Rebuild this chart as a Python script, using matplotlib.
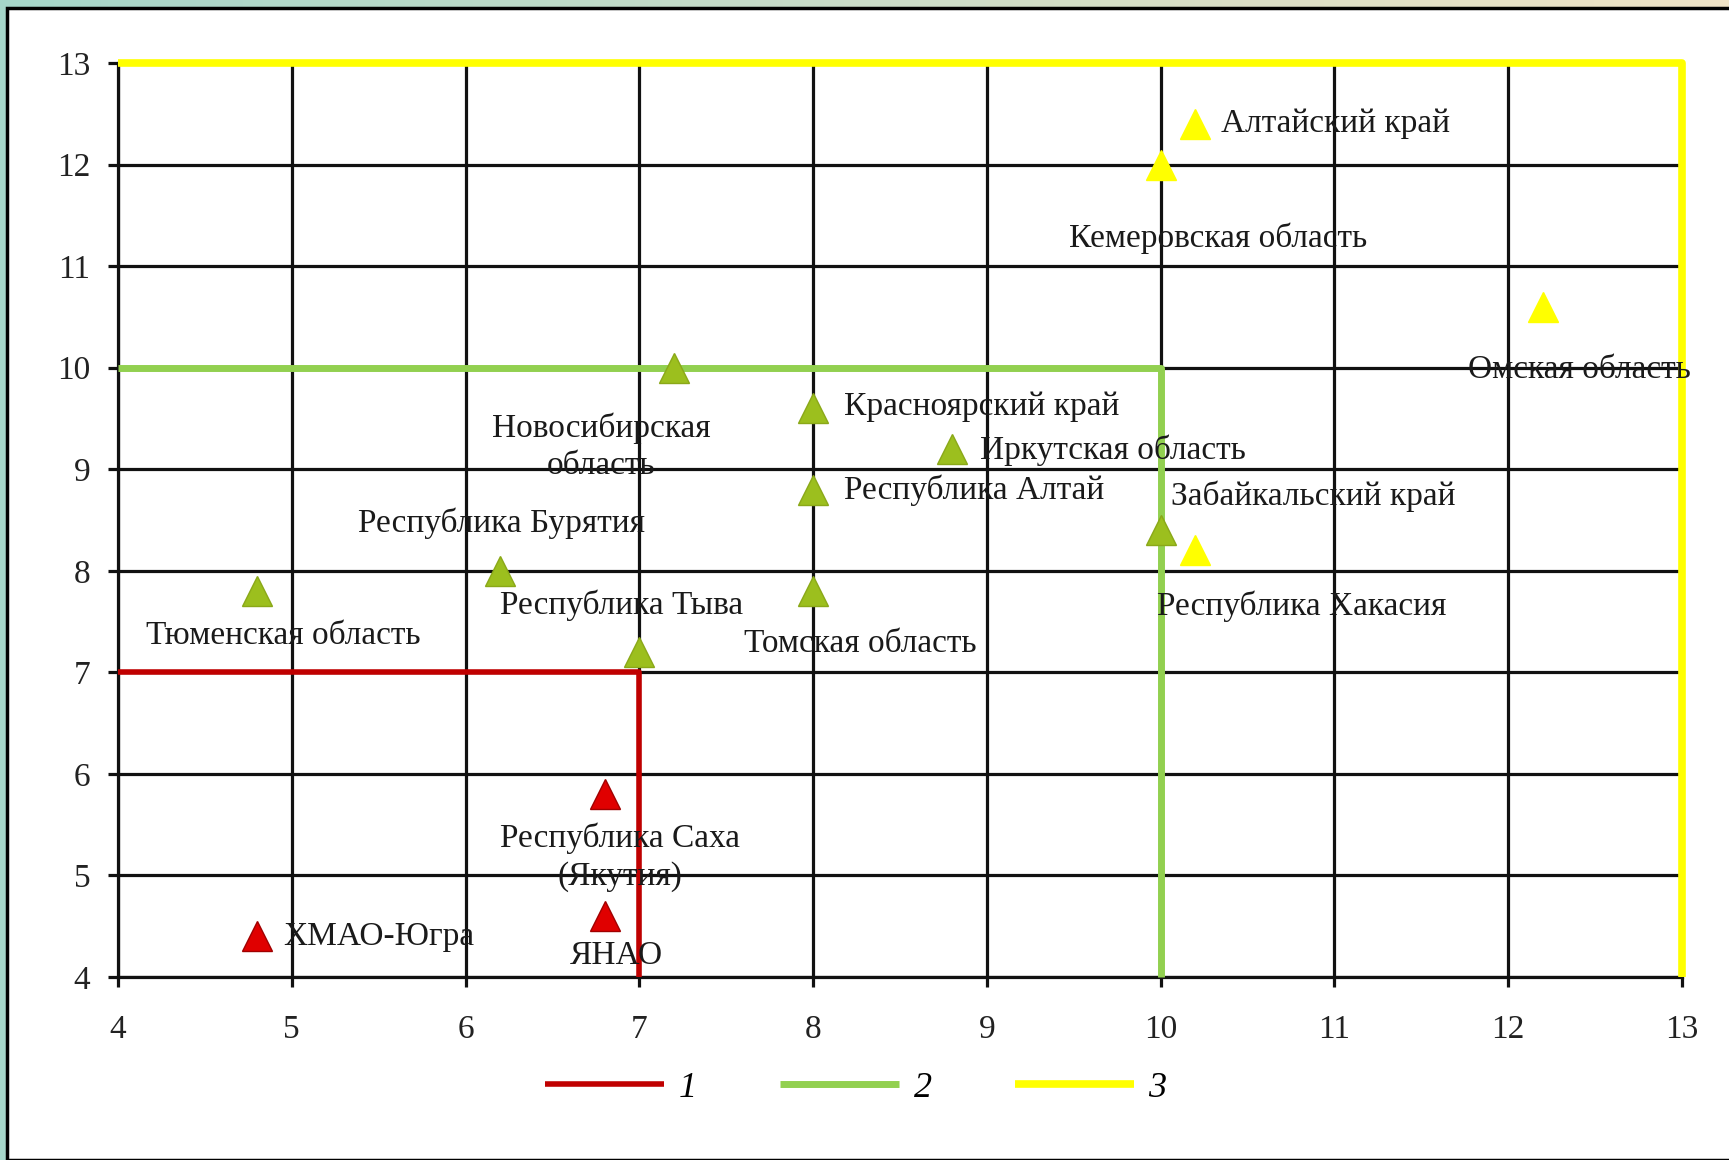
import numpy as np
import matplotlib.pyplot as plt
from matplotlib.patches import Rectangle

plt.rcParams['font.family'] = ['Liberation Serif', 'DejaVu Serif']

# регионы: группа 1 (красные)
red_names = ['ХМАО-Югра', 'Республика Саха\n(Якутия)', 'ЯНАО']
red_x = [4.8, 6.8, 6.8]
red_y = [4.4, 5.8, 4.6]

# группа 2 (зелёные)
green_names = ['Тюменская область', 'Республика Бурятия', 'Новосибирская\nобласть',
               'Республика Тыва', 'Красноярский край', 'Республика Алтай',
               'Томская область', 'Иркутская область', 'Забайкальский край']
green_x = [4.8, 6.2, 7.2, 7.0, 8.0, 8.0, 8.0, 8.8, 10.0]
green_y = [7.8, 8.0, 10.0, 7.2, 9.6, 8.8, 7.8, 9.2, 8.4]

# группа 3 (жёлтые)
yellow_names = ['Алтайский край', 'Кемеровская область', 'Омская область', 'Республика Хакасия']
yellow_x = [10.2, 10.0, 12.2, 10.2]
yellow_y = [12.4, 12.0, 10.6, 8.2]

# границы зон
zone1_x, zone1_y = [4, 7, 7], [7, 7, 4]
zone2_x, zone2_y = [4, 10, 10], [10, 10, 4]
zone3_x, zone3_y = [4, 13, 13], [13, 13, 4]
legend_labels = ['1', '2', '3']

# подписи: положение текста
label_pos = {
    'ХМАО-Югра': (4.95, 4.40, 'left'),
    'Республика Саха\n(Якутия)': (6.89, 5.18, 'center'),
    'ЯНАО': (6.87, 4.21, 'center'),
    'Тюменская область': (4.16, 7.36, 'left'),
    'Республика Бурятия': (5.38, 8.47, 'left'),
    'Новосибирская\nобласть': (6.78, 9.22, 'center'),
    'Республика Тыва': (6.2, 7.66, 'left'),
    'Красноярский край': (8.18, 9.62, 'left'),
    'Республика Алтай': (8.18, 8.79, 'left'),
    'Томская область': (7.60, 7.28, 'left'),
    'Иркутская область': (8.96, 9.19, 'left'),
    'Забайкальский край': (10.06, 8.73, 'left'),
    'Алтайский край': (10.35, 12.4, 'left'),
    'Кемеровская область': (10.33, 11.27, 'center'),
    'Омская область': (12.41, 9.98, 'center'),
    'Республика Хакасия': (9.98, 7.65, 'left'),
}

W, H = 1729, 1160
fig = plt.figure(figsize=(W / 100, H / 100), dpi=100)

# фон слайда
bg = fig.add_axes([0, 0, 1, 1])
grad = np.linspace(0, 1, 256)
c1 = np.array([0.65, 0.84, 0.79])
c2 = np.array([0.94, 0.89, 0.78])
img = np.array([c1 * (1 - g) + c2 * g for g in grad])[None, :, :]
bg.imshow(img, aspect='auto', extent=[0, 1, 0, 1])
bg.add_patch(Rectangle((7 / W, 0), 1, 1 - 8 / H, facecolor='white',
                       edgecolor='black', linewidth=2.5))
bg.set_xlim(0, 1)
bg.set_ylim(0, 1)
bg.axis('off')

ax = fig.add_axes([118 / W, 1 - 977 / H, (1682 - 118) / W, (977 - 63) / H])
ax.set_facecolor('none')
ax.set_xlim(4, 13)
ax.set_ylim(4, 13)
ax.set_xticks(range(4, 14))
ax.set_yticks(range(4, 14))
ax.grid(True, color='#111111', linewidth=2.3)
for s in ['top', 'right']:
    ax.spines[s].set_visible(False)
for s in ['left', 'bottom']:
    ax.spines[s].set_color('#111111')
    ax.spines[s].set_linewidth(2.3)
ax.tick_params(axis='both', direction='out', length=7, width=2.3, color='#111111',
               labelsize=24, labelcolor='#222222')
ax.tick_params(axis='x', pad=20)
ax.tick_params(axis='y', pad=13)

l1, = ax.plot(zone1_x, zone1_y, color='#c00000', lw=4, zorder=3, clip_on=False,
              solid_capstyle='butt', label=legend_labels[0])
l2, = ax.plot(zone2_x, zone2_y, color='#92d050', lw=5, zorder=3, clip_on=False,
              solid_capstyle='butt', label=legend_labels[1])
l3, = ax.plot(zone3_x, zone3_y, color='#ffff00', lw=5.5, zorder=3, clip_on=False,
              solid_capstyle='butt', label=legend_labels[2])

ax.plot(red_x, red_y, '^', color='#e00000', mec='#a00000', ms=22, zorder=4, clip_on=False)
ax.plot(green_x, green_y, '^', color='#9cbf1e', mec='#8aa818', ms=22, zorder=4, clip_on=False)
ax.plot(yellow_x, yellow_y, '^', color='#ffff00', mec='#ffff00', ms=22, zorder=4, clip_on=False)

for name in red_names + green_names + yellow_names:
    tx, ty, ha = label_pos[name]
    ax.text(tx, ty, name, ha=ha, va='center', fontsize=24, color='#1a1a1a',
            linespacing=1.3, zorder=5, clip_on=False)

leg = fig.legend(handles=[l1, l2, l3], loc='center', bbox_to_anchor=(0.495, 0.062),
                 ncol=3, frameon=False, handlelength=3.3, handletextpad=0.4,
                 columnspacing=2.3, prop={'size': 26, 'style': 'italic'})

plt.savefig('out.png', dpi=100)
